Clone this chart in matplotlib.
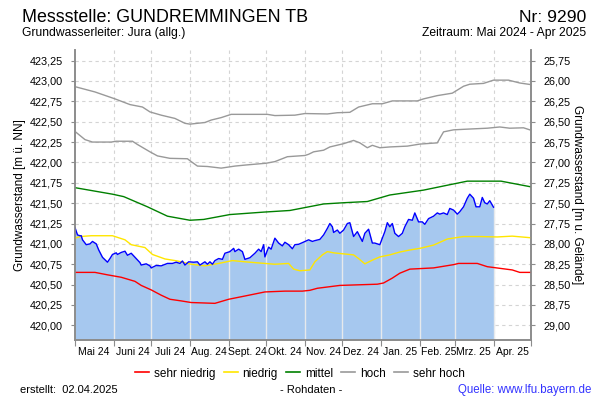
import numpy as np
import pandas as pd
import matplotlib
matplotlib.use('Agg')
import matplotlib.pyplot as plt
import matplotlib.dates as mdates
from matplotlib.lines import Line2D

plt.rcParams['font.family'] = ['Liberation Sans', 'DejaVu Sans']

# Daten (Tage ab 01.05.2024, Werte in m ü. NN)
start = pd.Timestamp('2024-05-01')

mess_tage = [0, 2, 4, 5, 6, 9, 12, 14, 17, 19, 22, 26, 28, 30, 33, 34, 37, 40, 42, 45,
             48, 52, 53, 57, 60, 61, 65, 69, 74, 78, 81, 84, 86, 88, 91, 95, 98, 100, 104, 106,
             108, 110, 112, 115, 118, 120, 124, 127, 128, 131, 134, 136, 140, 144, 147, 149, 151, 152, 155, 157,
             160, 163, 166, 168, 171, 174, 176, 179, 182, 187, 190, 192, 196, 199, 202, 204, 206, 207, 210, 212,
             215, 218, 220, 223, 226, 228, 230, 232, 235, 238, 240, 244, 248, 250, 252, 254, 256, 259, 262, 264,
             267, 270, 272, 275, 278, 280, 283, 287, 290, 292, 295, 298, 300, 303, 306, 308, 311, 314, 316, 319,
             321, 324, 326, 328, 330, 332, 334, 335]
mess_werte = [421.20, 421.11, 421.10, 421.10, 421.05, 420.99, 421.00, 421.03, 421.00, 420.925,
              420.835, 420.775, 420.82, 420.87, 420.89, 420.87, 420.895, 420.91, 420.86, 420.885,
              420.835, 420.77, 420.74, 420.755, 420.73, 420.705, 420.735, 420.73, 420.76, 420.76,
              420.775, 420.76, 420.79, 420.74, 420.78, 420.775, 420.78, 420.74, 420.78, 420.75,
              420.78, 420.75, 420.795, 420.82, 420.81, 420.885, 420.905, 420.945, 420.905, 420.935,
              420.905, 420.81, 420.83, 420.885, 420.935, 420.905, 420.99, 420.84, 420.96, 420.935,
              421.07, 421.01, 420.975, 421.02, 420.99, 420.94, 420.99, 420.995, 421.015, 421.05,
              421.03, 421.04, 421.055, 421.11, 421.19, 421.25, 421.21, 421.14, 421.17, 421.13,
              421.17, 421.25, 421.26, 421.09, 421.15, 421.09, 421.03, 421.13, 421.18, 421.01,
              421.01, 420.99, 421.15, 421.26, 421.21, 421.25, 421.13, 421.09, 421.13, 421.21,
              421.30, 421.29, 421.38, 421.27, 421.27, 421.24, 421.31, 421.34, 421.38, 421.365,
              421.38, 421.36, 421.435, 421.415, 421.365, 421.395, 421.455, 421.56, 421.61, 421.56,
              421.455, 421.455, 421.57, 421.505, 421.49, 421.53, 421.475, 421.45]

sehr_hoch_tage = [0, 16, 32, 44, 54, 60, 69, 80, 88, 92, 104, 109, 117, 125, 154, 160, 176, 184,
                  202, 210, 220, 227, 238, 246, 254, 274, 279, 290, 302, 311, 316, 327, 335, 347, 356, 365]
sehr_hoch_werte = [422.93, 422.865, 422.78, 422.71, 422.68, 422.62, 422.58, 422.54, 422.48, 422.47,
                   422.49, 422.52, 422.55, 422.59, 422.59, 422.575, 422.58, 422.60, 422.595, 422.61,
                   422.615, 422.68, 422.72, 422.72, 422.755, 422.755, 422.78, 422.82, 422.85, 422.935,
                   422.96, 422.97, 423.01, 423.01, 422.975, 422.955]

hoch_tage = [0, 8, 14, 29, 33, 46, 50, 60, 66, 76, 90, 93, 98, 106, 117, 128, 138, 153, 160, 170,
             184, 187, 191, 199, 204, 215, 223, 228, 234, 238, 244, 252, 266, 276, 290, 292, 295, 303,
             316, 330, 340, 348, 359, 365]
hoch_werte = [422.38, 422.28, 422.25, 422.25, 422.26, 422.26, 422.22, 422.13, 422.08, 422.05,
              422.045, 422.01, 421.955, 421.95, 421.93, 421.955, 421.97, 421.99, 422.01, 422.07,
              422.085, 422.10, 422.13, 422.15, 422.19, 422.23, 422.27, 422.24, 422.18, 422.21,
              422.18, 422.19, 422.20, 422.225, 422.24, 422.295, 422.375, 422.40, 422.41, 422.42,
              422.435, 422.42, 422.425, 422.395]

mittel_tage = [0, 30, 39, 58, 74, 92, 103, 124, 151, 172, 199, 215, 234, 252, 279, 298, 314, 341, 365]
mittel_werte = [421.69, 421.61, 421.58, 421.455, 421.34, 421.29, 421.30, 421.36, 421.39, 421.41,
                421.49, 421.505, 421.52, 421.60, 421.66, 421.72, 421.77, 421.77, 421.70]

niedrig_tage = [0, 4, 13, 30, 40, 45, 56, 62, 72, 82, 93, 104, 115, 126, 136, 152, 160, 171, 175, 180,
                188, 192, 198, 202, 207, 223, 227, 232, 238, 244, 252, 260, 268, 276, 287, 298, 311, 324,
                338, 350, 365]
niedrig_werte = [421.07, 421.09, 421.10, 421.10, 421.05, 420.99, 420.955, 420.87, 420.815, 420.79,
                 420.75, 420.73, 420.76, 420.795, 420.78, 420.76, 420.75, 420.76, 420.69, 420.67,
                 420.68, 420.78, 420.865, 420.905, 420.89, 420.865, 420.82, 420.755, 420.80, 420.84,
                 420.865, 420.90, 420.925, 420.945, 420.985, 421.06, 421.09, 421.09, 421.085, 421.095,
                 421.075]

sehr_niedrig_tage = [0, 16, 26, 37, 48, 53, 61, 69, 76, 85, 93, 112, 123, 136, 152, 168, 182, 188, 194,
                     212, 242, 247, 254, 260, 268, 287, 303, 307, 322, 330, 340, 350, 356, 365]
sehr_niedrig_werte = [420.65, 420.65, 420.62, 420.59, 420.54, 420.49, 420.435, 420.37, 420.32, 420.30,
                      420.28, 420.27, 420.32, 420.36, 420.41, 420.42, 420.42, 420.43, 420.455, 420.49,
                      420.505, 420.52, 420.58, 420.64, 420.69, 420.705, 420.745, 420.76, 420.76, 420.72,
                      420.70, 420.68, 420.65, 420.65]

monate = ['Mai 24', 'Juni 24', 'Juli 24', 'Aug. 24', 'Sept. 24', 'Okt. 24', 'Nov. 24',
          'Dez. 24', 'Jan. 25', 'Feb. 25', 'Mrz. 25', 'Apr. 25']
y_ticks = [420.00, 420.25, 420.50, 420.75, 421.00, 421.25, 421.50, 421.75,
           422.00, 422.25, 422.50, 422.75, 423.00, 423.25]
gelaende = 449.0  # m ü. NN, Bezug für rechte Achse


def to_dates(tage):
    return start + pd.to_timedelta(tage, unit='D')


frame_col = '#8c8c8c'
grid_col = '#d4d4d4'

fig = plt.figure(figsize=(6, 4), dpi=100)
ax = fig.add_axes([0.125, 0.15, 0.76, 0.725])

ylo, yhi = 419.82, 423.38
x0, x1 = start, pd.Timestamp('2025-05-01')
month_starts = pd.date_range(x0, x1, freq='MS')

# Gitter
for v in y_ticks:
    ax.axhline(v, color=grid_col, lw=0.8, ls=(0, (3, 3)), zorder=0)
for d in month_starts[1:-1]:
    ax.axvline(d, color=grid_col, lw=0.8, ls=(0, (3, 3)), zorder=0)

# Messwerte
md = to_dates(mess_tage)
ax.fill_between(md, mess_werte, ylo, color='#a6c8ef', lw=0, zorder=1)
mnum = mdates.date2num(md)
for d in month_starts[1:-1]:
    dn = mdates.date2num(d)
    if dn <= mnum[-1]:
        top = np.interp(dn, mnum, mess_werte)
        ax.vlines(d, ylo, top, color='#e6e9ec', lw=1.0, zorder=1.5)
ax.plot(md, mess_werte, color='#0000ff', lw=1.0, zorder=4)

# Statistiklinien
ax.plot(to_dates(sehr_niedrig_tage), sehr_niedrig_werte, color='#ff0000', lw=1.0, zorder=3)
ax.plot(to_dates(niedrig_tage), niedrig_werte, color='#ffe600', lw=1.0, zorder=3)
ax.plot(to_dates(mittel_tage), mittel_werte, color='#008000', lw=1.0, zorder=3)
ax.plot(to_dates(hoch_tage), hoch_werte, color='#999999', lw=1.0, zorder=3)
ax.plot(to_dates(sehr_hoch_tage), sehr_hoch_werte, color='#999999', lw=1.0, zorder=3)

ax.set_xlim(x0, x1)
ax.set_ylim(ylo, yhi)

# Achsen
ax.set_xticks(month_starts)
ax.set_xticklabels([])
mids = [d + pd.Timedelta(days=15) for d in month_starts[:-1]]
ax.set_xticks(mids, minor=True)
ax.set_xticklabels(monate, minor=True, fontsize=7.5)
ax.tick_params(axis='x', which='major', length=4, color=frame_col)
ax.tick_params(axis='x', which='minor', length=0, pad=5)

ax.set_yticks(y_ticks)
ax.set_yticklabels([f'{v:.2f}'.replace('.', ',') for v in y_ticks], fontsize=7.8)
ax.tick_params(axis='y', length=3, color=frame_col, pad=6)
ax.set_ylabel('Grundwasserstand [m ü. NN]', fontsize=8.5, labelpad=2)

for s in ['left', 'right', 'bottom']:
    ax.spines[s].set_color(frame_col)
    ax.spines[s].set_linewidth(1.2)
ax.spines['top'].set_visible(False)

ax2 = ax.twinx()
ax2.set_ylim(gelaende - ylo, gelaende - yhi)
r_ticks = [gelaende - v for v in y_ticks]
ax2.set_yticks(r_ticks)
ax2.set_yticklabels([f'{v:.2f}'.replace('.', ',') for v in r_ticks], fontsize=7.8)
ax2.tick_params(axis='y', length=3, color=frame_col, pad=6)
ax2.set_ylabel('Grundwasserstand [m u. Gelände]', fontsize=8.5, rotation=270, labelpad=9)
for s in ['left', 'right', 'bottom']:
    ax2.spines[s].set_color(frame_col)
    ax2.spines[s].set_linewidth(1.2)
ax2.spines['top'].set_visible(False)

# Kopf
fig.text(0.037, 0.957, 'Messstelle: GUNDREMMINGEN TB', fontsize=12.9, va='center', ha='left')
fig.text(0.977, 0.957, 'Nr: 9290', fontsize=12.6, va='center', ha='right')
fig.text(0.037, 0.917, 'Grundwasserleiter: Jura (allg.)', fontsize=8.7, va='center', ha='left')
fig.text(0.977, 0.917, 'Zeitraum: Mai 2024 - Apr 2025', fontsize=8.7, va='center', ha='right')

# Legende
handles = [Line2D([], [], color='#ff0000', lw=1.2),
           Line2D([], [], color='#ffe600', lw=1.2),
           Line2D([], [], color='#008000', lw=1.2),
           Line2D([], [], color='#999999', lw=1.2),
           Line2D([], [], color='#999999', lw=1.2)]
fig.legend(handles, ['sehr niedrig', 'niedrig', 'mittel', 'hoch', 'sehr hoch'],
           loc='center', bbox_to_anchor=(0.5, 0.066), ncol=5, frameon=False,
           fontsize=8.5, handlelength=1.2, handletextpad=0.4, columnspacing=0.7)

# Fuß
fig.text(0.033, 0.024, 'erstellt:  02.04.2025', fontsize=8, va='center', ha='left')
fig.text(0.518, 0.024, '- Rohdaten -', fontsize=8, va='center', ha='center')
fig.text(0.985, 0.024, 'Quelle: www.lfu.bayern.de', fontsize=8.3, va='center', ha='right',
         color='#3333ff')

fig.savefig('out.png', dpi=100)
